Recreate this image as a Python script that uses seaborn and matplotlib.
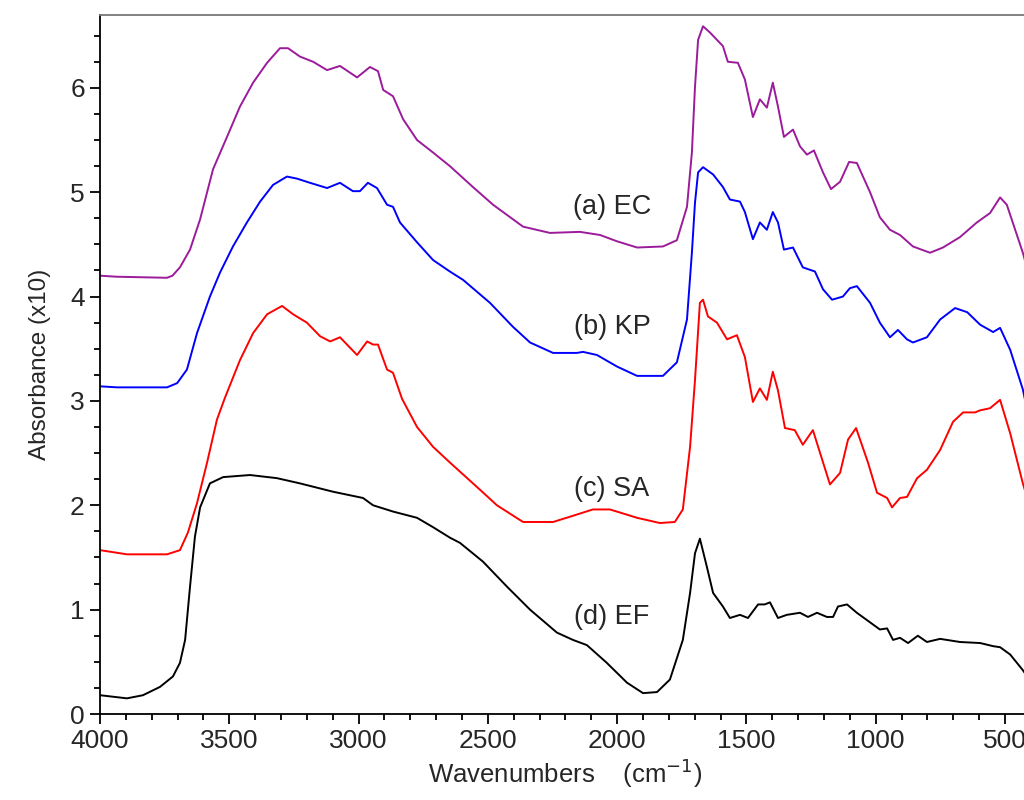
import pandas as pd
import matplotlib
matplotlib.use("Agg")
import matplotlib.pyplot as plt
import seaborn as sns
from matplotlib.ticker import MultipleLocator

# FTIR spectra (wavenumber in cm-1, absorbance x10)
ec_x = [4000, 3934, 3741, 3720, 3691, 3652, 3613, 3563, 3509, 3459, 3408, 3354, 3304, 3273, 3227,
        3176, 3122, 3072, 3006, 2956, 2925, 2905, 2867, 2828, 2774, 2712, 2647, 2558, 2480, 2364,
        2260, 2144, 2066, 2001, 1923, 1823, 1769, 1730, 1711, 1699, 1687, 1668, 1641, 1591, 1572,
        1533, 1506, 1475, 1448, 1421, 1398, 1378, 1355, 1320, 1293, 1266, 1239, 1204, 1173, 1138,
        1103, 1073, 1022, 984, 945, 906, 856, 790, 740, 674, 609, 558, 519, 493, 431, 420]
ec_y = [4.20, 4.19, 4.18, 4.20, 4.28, 4.45, 4.74, 5.22, 5.53, 5.82, 6.05, 6.24, 6.38, 6.38, 6.30,
        6.25, 6.17, 6.21, 6.10, 6.20, 6.16, 5.98, 5.92, 5.70, 5.50, 5.38, 5.25, 5.05, 4.88, 4.67,
        4.61, 4.62, 4.59, 4.53, 4.47, 4.48, 4.54, 4.86, 5.38, 6.01, 6.46, 6.59, 6.53, 6.40, 6.25,
        6.24, 6.08, 5.72, 5.89, 5.81, 6.05, 5.82, 5.53, 5.60, 5.44, 5.36, 5.40, 5.19, 5.03, 5.10,
        5.29, 5.28, 5.00, 4.76, 4.64, 4.59, 4.48, 4.42, 4.47, 4.57, 4.71, 4.80, 4.95, 4.88, 4.42, 4.32]

kp_x = [4000, 3934, 3741, 3702, 3664, 3625, 3575, 3536, 3486, 3432, 3381, 3331, 3277, 3238, 3188,
        3122, 3072, 3022, 2995, 2964, 2929, 2890, 2867, 2840, 2774, 2712, 2647, 2596, 2492, 2403,
        2337, 2248, 2156, 2132, 2078, 2001, 1923, 1823, 1769, 1730, 1711, 1699, 1687, 1668, 1629,
        1591, 1564, 1525, 1506, 1475, 1448, 1421, 1398, 1378, 1355, 1320, 1282, 1235, 1204, 1169,
        1127, 1100, 1073, 1022, 984, 945, 914, 879, 856, 802, 751, 693, 646, 596, 546, 519, 480,
        431, 420]
kp_y = [3.14, 3.13, 3.13, 3.17, 3.30, 3.65, 4.00, 4.23, 4.48, 4.71, 4.91, 5.07, 5.15, 5.13, 5.09,
        5.04, 5.09, 5.01, 5.01, 5.09, 5.04, 4.88, 4.86, 4.71, 4.52, 4.35, 4.24, 4.16, 3.94, 3.71,
        3.56, 3.46, 3.46, 3.47, 3.44, 3.33, 3.24, 3.24, 3.37, 3.78, 4.42, 4.90, 5.19, 5.24, 5.17,
        5.05, 4.93, 4.91, 4.81, 4.55, 4.71, 4.64, 4.81, 4.71, 4.45, 4.47, 4.28, 4.24, 4.07, 3.97,
        4.00, 4.08, 4.10, 3.94, 3.75, 3.61, 3.68, 3.59, 3.56, 3.61, 3.78, 3.89, 3.85, 3.73, 3.66,
        3.70, 3.49, 3.11, 2.98]

sa_x = [4000, 3896, 3741, 3691, 3660, 3625, 3586, 3548, 3517, 3459, 3408, 3354, 3296, 3253, 3200,
        3149, 3110, 3072, 3006, 2967, 2944, 2925, 2890, 2867, 2832, 2774, 2712, 2647, 2531, 2465,
        2364, 2248, 2183, 2094, 2028, 1923, 1835, 1777, 1746, 1718, 1699, 1680, 1668, 1649, 1614,
        1575, 1537, 1506, 1475, 1448, 1421, 1398, 1378, 1351, 1313, 1282, 1243, 1177, 1138, 1107,
        1076, 1030, 995, 956, 937, 906, 879, 840, 802, 751, 701, 662, 616, 596, 558, 519, 480,
        431, 420]
sa_y = [1.57, 1.53, 1.53, 1.57, 1.74, 2.02, 2.41, 2.82, 3.03, 3.39, 3.65, 3.83, 3.91, 3.83, 3.75,
        3.62, 3.57, 3.61, 3.44, 3.57, 3.54, 3.54, 3.30, 3.27, 3.02, 2.75, 2.56, 2.41, 2.15, 2.00,
        1.84, 1.84, 1.89, 1.96, 1.96, 1.88, 1.83, 1.84, 1.96, 2.56, 3.20, 3.94, 3.97, 3.81, 3.75,
        3.59, 3.63, 3.42, 2.99, 3.12, 3.01, 3.28, 3.10, 2.74, 2.72, 2.58, 2.72, 2.20, 2.31, 2.63,
        2.74, 2.41, 2.12, 2.07, 1.98, 2.07, 2.08, 2.26, 2.34, 2.53, 2.80, 2.89, 2.89, 2.91, 2.93,
        3.01, 2.69, 2.21, 2.12]

ef_x = [4000, 3896, 3834, 3768, 3718, 3691, 3671, 3652, 3633, 3613, 3575, 3524, 3420, 3316, 3227,
        3099, 2983, 2944, 2867, 2774, 2712, 2647, 2608, 2519, 2426, 2337, 2233, 2171, 2117, 2040,
        1962, 1900, 1846, 1796, 1746, 1718, 1699, 1680, 1653, 1629, 1591, 1564, 1525, 1494, 1455,
        1429, 1409, 1378, 1344, 1293, 1262, 1227, 1189, 1165, 1146, 1111, 1073, 1034, 984, 956,
        933, 906, 875, 837, 802, 751, 674, 596, 546, 519, 480, 431, 420]
ef_y = [0.18, 0.15, 0.18, 0.26, 0.36, 0.49, 0.71, 1.22, 1.70, 1.98, 2.21, 2.27, 2.29, 2.26, 2.21,
        2.13, 2.07, 2.00, 1.94, 1.88, 1.79, 1.69, 1.64, 1.46, 1.22, 1.00, 0.78, 0.71, 0.66, 0.49,
        0.30, 0.20, 0.21, 0.33, 0.71, 1.16, 1.54, 1.68, 1.41, 1.16, 1.03, 0.92, 0.95, 0.92, 1.05,
        1.05, 1.07, 0.92, 0.95, 0.97, 0.93, 0.97, 0.93, 0.93, 1.03, 1.05, 0.97, 0.90, 0.81, 0.82,
        0.71, 0.73, 0.68, 0.75, 0.69, 0.72, 0.69, 0.68, 0.65, 0.64, 0.57, 0.42, 0.38]

labels = ["(a) EC", "(b) KP", "(c) SA", "(d) EF"]
colors = ["#9b1b9b", "#0000ff", "#ff0000", "#000000"]
label_y = [4.86, 3.71, 2.16, 0.93]
label_x = 2020

series = [(ec_x, ec_y), (kp_x, kp_y), (sa_x, sa_y), (ef_x, ef_y)]
df = pd.concat(
    [pd.DataFrame({"wn": xs, "abs": ys, "sample": lab}) for (xs, ys), lab in zip(series, labels)],
    ignore_index=True,
)

sns.set_style("ticks")
plt.rcParams["font.family"] = ["Liberation Sans", "DejaVu Sans"]

fig = plt.figure(figsize=(10.24, 8), dpi=100)
ax = fig.add_axes([0.0977, 0.1075, 0.909, 0.874])

sns.lineplot(data=df, x="wn", y="abs", hue="sample", palette=dict(zip(labels, colors)),
             estimator=None, sort=False, legend=False, linewidth=1.4, ax=ax)

for lab, ly in zip(labels, label_y):
    ax.text(label_x, ly, lab, ha="center", va="center", fontsize=19.5)

ax.set_xlim(4000, 400)
ax.set_ylim(0, 6.70)
ax.xaxis.set_major_locator(MultipleLocator(500))
ax.xaxis.set_minor_locator(MultipleLocator(100))
ax.yaxis.set_major_locator(MultipleLocator(1))
ax.yaxis.set_minor_locator(MultipleLocator(0.25))
ax.tick_params(which="major", direction="out", length=7, width=1.3, labelsize=19, color="black", pad=4)
ax.tick_params(which="minor", direction="out", length=4, width=1.3, color="black")

for side in ["left", "bottom"]:
    ax.spines[side].set_color("black")
    ax.spines[side].set_linewidth(1.3)
ax.spines["top"].set_color("#777777")
ax.spines["top"].set_linewidth(1.3)
ax.spines["right"].set_visible(False)

ax.set_xlabel("Wavenumbers    (cm$^{-1}$)", fontsize=18.5, labelpad=2)
ax.set_ylabel("Absorbance (x10)", fontsize=17.5, labelpad=14)

fig.savefig("out.png", dpi=100)
